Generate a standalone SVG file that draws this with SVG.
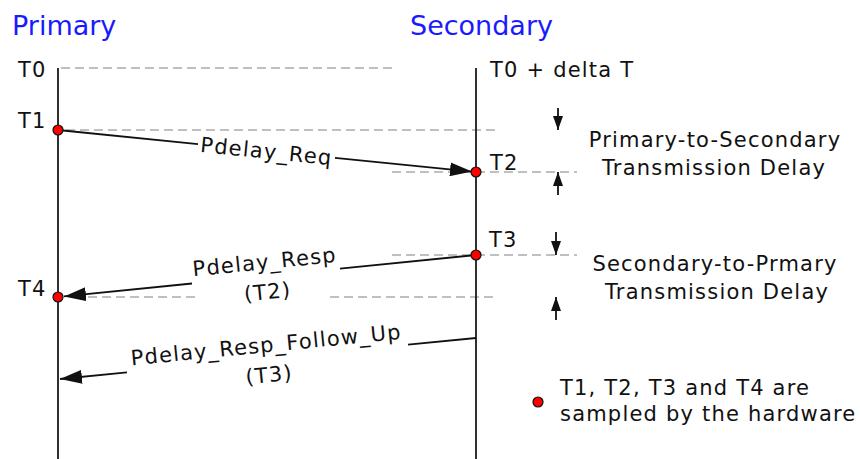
<svg xmlns="http://www.w3.org/2000/svg" width="860" height="459" viewBox="0 0 860 459">
  <style>
    .title { font-family: "DejaVu Sans", Verdana, sans-serif; font-size: 27px; fill: #1a1aff; }
    .lbl { font-family: "DejaVu Sans", Verdana, sans-serif; font-size: 21px; fill: #111; letter-spacing: 1.2px; }
    .mid { text-anchor: middle; }
    .life { stroke: #1a1a1a; stroke-width: 1.8; fill: none; }
    .dash { stroke: #c0c0c0; stroke-width: 2; stroke-dasharray: 9 5; fill: none; }
    .msg { stroke: #111; stroke-width: 1.8; fill: none; }
    .dot { fill: #ff0000; stroke: #111; stroke-width: 1.2; }
  </style>
  <defs>
    <marker id="arrowLg" markerUnits="userSpaceOnUse" viewBox="0 0 22 14" markerWidth="22" markerHeight="14" refX="22" refY="7" orient="auto">
      <path d="M0,0 L22,7 L0,14 Z" fill="#111"/>
    </marker>
    <marker id="arrowSm" markerUnits="userSpaceOnUse" viewBox="0 0 14 10" markerWidth="14" markerHeight="10" refX="14" refY="5" orient="auto">
      <path d="M0,0 L14,5 L0,10 Z" fill="#111"/>
    </marker>
  </defs>
  <rect width="860" height="459" fill="#fff"/>

  <g id="guides">
    <line class="dash" x1="61" y1="68" x2="395" y2="68"/>
    <line class="dash" x1="66" y1="130" x2="498" y2="130"/>
    <line class="dash" x1="392" y1="172" x2="577" y2="172"/>
    <line class="dash" x1="392" y1="255" x2="577" y2="255"/>
    <line class="dash" x1="88" y1="297" x2="197" y2="297"/>
    <line class="dash" x1="330" y1="297" x2="493" y2="297"/>
  </g>

  <g id="primary">
    <text class="title" x="12" y="35">Primary</text>
    <line class="life" x1="58" y1="68" x2="58" y2="459"/>
    <text class="lbl" x="18" y="77">T0</text>
    <text class="lbl" x="18" y="128">T1</text>
    <text class="lbl" x="18" y="296">T4</text>
  </g>

  <g id="secondary">
    <text class="title" x="410" y="35">Secondary</text>
    <line class="life" x1="476" y1="68" x2="476" y2="459"/>
    <text class="lbl" x="490" y="77">T0 + delta T</text>
    <text class="lbl" x="490" y="170">T2</text>
    <text class="lbl" x="489" y="247">T3</text>
  </g>

  <g id="connectors">
    <line class="msg" x1="58" y1="130" x2="198" y2="144.1"/>
    <line class="msg" x1="335" y1="157.8" x2="472" y2="171.6" marker-end="url(#arrowLg)"/>
    <line class="msg" x1="476" y1="255" x2="340" y2="268.7"/>
    <line class="msg" x1="192" y1="283.5" x2="64" y2="296.4" marker-end="url(#arrowLg)"/>
    <line class="msg" x1="476" y1="338" x2="408" y2="344.7"/>
    <line class="msg" x1="127" y1="372.4" x2="60" y2="379" marker-end="url(#arrowLg)"/>
    <line class="msg" x1="558" y1="108" x2="558" y2="130" marker-end="url(#arrowSm)"/>
    <line class="msg" x1="558" y1="195" x2="558" y2="172" marker-end="url(#arrowSm)"/>
    <line class="msg" x1="556" y1="232" x2="556" y2="255" marker-end="url(#arrowSm)"/>
    <line class="msg" x1="556" y1="320" x2="556" y2="297" marker-end="url(#arrowSm)"/>
  </g>

  <g id="events">
    <circle class="dot" cx="58" cy="130" r="5"/>
    <circle class="dot" cx="476" cy="172" r="5"/>
    <circle class="dot" cx="476" cy="255" r="5"/>
    <circle class="dot" cx="58" cy="297" r="5"/>
  </g>

  <g id="msg-labels">
    <g transform="translate(266.5,151) rotate(5.74)">
      <text class="lbl mid" x="0" y="7.5">Pdelay_Req</text>
    </g>
    <g transform="translate(266,276.1) rotate(-5.74)">
      <text class="lbl mid" x="0" y="-7">Pdelay_Resp</text>
      <text class="lbl mid" x="0" y="23">(T2)</text>
    </g>
    <g transform="translate(267.5,358.6) rotate(-5.63)">
      <text class="lbl mid" x="0" y="-6.5">Pdelay_Resp_Follow_Up</text>
      <text class="lbl mid" x="0" y="23.5">(T3)</text>
    </g>
  </g>

  <g id="delay-notes">
    <text class="lbl mid" x="715" y="147">Primary-to-Secondary</text>
    <text class="lbl mid" x="714" y="175">Transmission Delay</text>
    <text class="lbl mid" x="715" y="271">Secondary-to-Prmary</text>
    <text class="lbl mid" x="717" y="299">Transmission Delay</text>
  </g>

  <g id="legend">
    <circle class="dot" cx="538" cy="402" r="5"/>
    <text class="lbl" x="560" y="395">T1, T2, T3 and T4 are</text>
    <text class="lbl" x="560" y="421">sampled by the hardware</text>
  </g>
</svg>
